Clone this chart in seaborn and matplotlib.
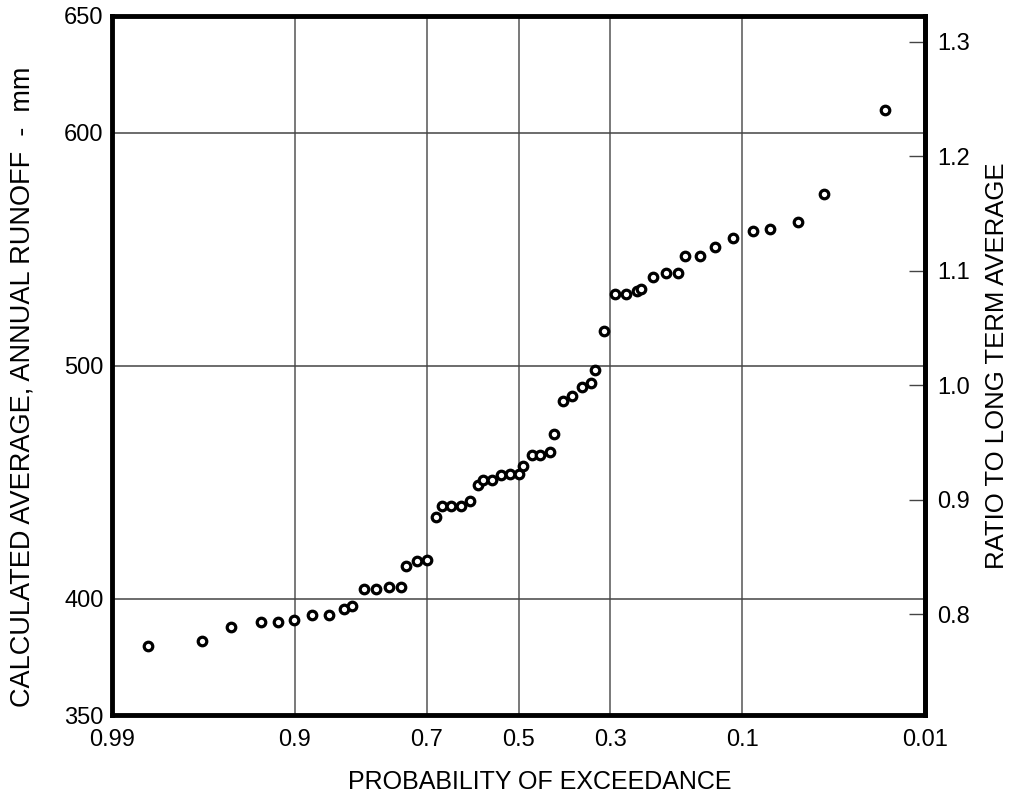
import numpy as np
import matplotlib
matplotlib.use("Agg")
import matplotlib.pyplot as plt
import seaborn as sns
from matplotlib.ticker import FixedLocator, FixedFormatter
from statistics import NormalDist

# exceedance probability and runoff (mm)
exceed_prob = [0.983, 0.965, 0.950, 0.930, 0.916, 0.901, 0.881, 0.861, 0.841, 0.830,
               0.811, 0.792, 0.771, 0.750, 0.741, 0.720, 0.700, 0.682, 0.670, 0.650,
               0.630, 0.610, 0.592, 0.581, 0.560, 0.540, 0.519, 0.500, 0.489, 0.469,
               0.450, 0.429, 0.420, 0.400, 0.380, 0.359, 0.339, 0.330, 0.312, 0.291,
               0.270, 0.249, 0.241, 0.220, 0.200, 0.180, 0.170, 0.150, 0.130, 0.110,
               0.090, 0.075, 0.055, 0.040, 0.018]
runoff_mm = [379.8, 381.8, 387.9, 389.9, 389.9, 390.7, 392.9, 392.9, 395.7, 396.9,
             403.9, 403.9, 404.9, 404.9, 413.9, 416.3, 416.6, 434.8, 439.9, 439.9,
             439.9, 441.8, 448.7, 450.9, 450.8, 452.8, 453.6, 453.6, 457.0, 461.7,
             461.7, 462.7, 470.7, 484.7, 486.9, 490.9, 492.7, 497.9, 514.8, 530.8,
             530.8, 531.9, 533.0, 537.9, 539.7, 539.7, 546.8, 546.8, 550.8, 554.8,
             557.8, 558.7, 561.8, 573.8, 609.7]

long_term_avg = 491.5  # mm, ratio 1.0

x_ticks = [0.99, 0.9, 0.7, 0.5, 0.3, 0.1, 0.01]
x_tick_labels = ["0.99", "0.9", "0.7", "0.5", "0.3", "0.1", "0.01"]
y_ticks = [350, 400, 500, 600, 650]
ratio_ticks = [0.8, 0.9, 1.0, 1.1, 1.2, 1.3]

# normal probability scale
_nd = NormalDist()
_ppf = np.vectorize(lambda v: np.nan if np.isnan(v) else _nd.inv_cdf(v), otypes=[float])
_cdf = np.vectorize(lambda v: np.nan if np.isnan(v) else _nd.cdf(v), otypes=[float])


def _prob_to_z(p):
    p = np.clip(np.asarray(p, dtype=float), 1e-9, 1 - 1e-9)
    return _ppf(p)


def _z_to_prob(z):
    return _cdf(np.asarray(z, dtype=float))


sns.set_style("white")
plt.rcParams["font.family"] = ["Liberation Sans", "DejaVu Sans"]
plt.rcParams["text.color"] = "black"
plt.rcParams["axes.labelcolor"] = "black"
plt.rcParams["xtick.color"] = "black"
plt.rcParams["ytick.color"] = "black"

fig = plt.figure(figsize=(10.13, 7.92), dpi=100)
ax = fig.add_axes([0.1106, 0.0972, 0.8025, 0.8826])

sns.scatterplot(x=exceed_prob, y=runoff_mm, ax=ax, marker="o", s=38,
                facecolor="white", edgecolor="black", linewidth=2.3, zorder=3)

ax.set_xscale("function", functions=(_prob_to_z, _z_to_prob))
ax.set_xlim(0.99, 0.01)
ax.set_ylim(350, 650)

ax.xaxis.set_major_locator(FixedLocator(x_ticks))
ax.xaxis.set_major_formatter(FixedFormatter(x_tick_labels))
ax.xaxis.set_minor_locator(FixedLocator([]))
ax.yaxis.set_major_locator(FixedLocator(y_ticks))

# grid lines only at interior ticks
for p in x_ticks[1:-1]:
    ax.axvline(p, color="#555555", lw=1.1, zorder=1)
for v in [400, 500, 600]:
    ax.axhline(v, color="#444444", lw=1.1, zorder=1)

ax.tick_params(axis="x", length=0, pad=10, labelsize=17)
ax.tick_params(axis="y", length=0, pad=6, labelsize=17)

for sp in ax.spines.values():
    sp.set_linewidth(3.5)
    sp.set_color("black")

ax.set_xlabel("PROBABILITY OF EXCEEDANCE", fontsize=18)
ax.xaxis.set_label_coords(0.526, -0.078)
ax.set_ylabel("CALCULATED AVERAGE, ANNUAL RUNOFF  -  mm", fontsize=19.5)
ax.yaxis.set_label_coords(-0.094, 0.47)

# right axis: ratio to long term average
sec = ax.secondary_yaxis("right", functions=(lambda mm: mm / long_term_avg,
                                             lambda r: r * long_term_avg))
sec.yaxis.set_major_locator(FixedLocator(ratio_ticks))
sec.yaxis.set_major_formatter(FixedFormatter([f"{r:.1f}" for r in ratio_ticks]))
sec.tick_params(axis="y", direction="in", length=11.5, width=1, color="#444444",
                pad=9, labelsize=17)
sec.spines["right"].set_linewidth(3.5)
sec.set_ylabel("RATIO TO LONG TERM AVERAGE", fontsize=18.5, labelpad=11)

fig.savefig("out.png", dpi=100)
